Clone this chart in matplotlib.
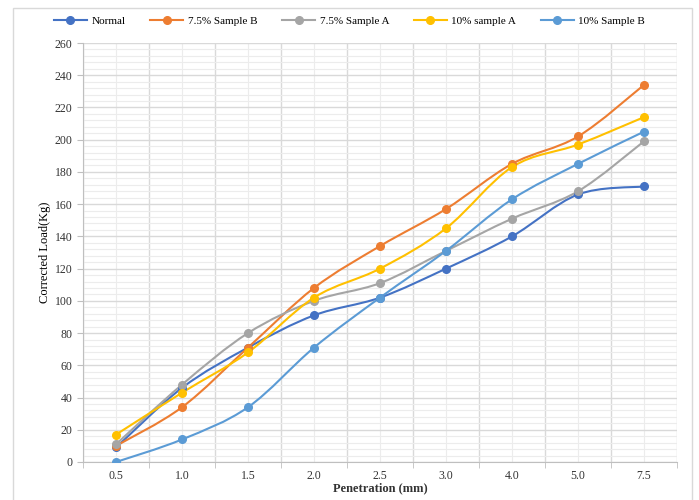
import numpy as np
import matplotlib
matplotlib.use('Agg')
import matplotlib.pyplot as plt
from matplotlib.path import Path
from matplotlib.patches import PathPatch, Rectangle
from matplotlib.lines import Line2D

penetration = ['0.5', '1.0', '1.5', '2.0', '2.5', '3.0', '4.0', '5.0', '7.5']
normal      = [9, 46, 71, 91, 102, 120, 140, 166, 171]
s75_b       = [10, 34, 71, 108, 134, 157, 185, 202, 234]
s75_a       = [11, 48, 80, 100, 111, 131, 151, 168, 199]
s10_a       = [17, 43, 68, 102, 120, 145, 183, 197, 214]
s10_b       = [0, 14, 34, 71, 102, 131, 163, 185, 205]

names  = ['Normal', '7.5% Sample B', '7.5% Sample A', '10% sample A', '10% Sample B']
series = [normal, s75_b, s75_a, s10_a, s10_b]
colors = ['#4472C4', '#ED7D31', '#A5A5A5', '#FFC000', '#5B9BD5']

plt.rcParams['font.family'] = ['Liberation Serif', 'DejaVu Serif']

def smooth_path(x, y):
    # Catmull-Rom style bezier, like Excel's "smoothed line"
    pts = np.column_stack([x, y]).astype(float)
    verts = [pts[0]]; codes = [Path.MOVETO]
    n = len(pts)
    for i in range(n - 1):
        p0 = pts[max(i - 1, 0)]; p1 = pts[i]; p2 = pts[i + 1]; p3 = pts[min(i + 2, n - 1)]
        c1 = p1 + (p2 - p0) / 6.0
        c2 = p2 - (p3 - p1) / 6.0
        verts += [c1, c2, p2]; codes += [Path.CURVE4] * 3
    return Path(verts, codes)

fig = plt.figure(figsize=(6.99, 5.0), dpi=100)
ax = fig.add_axes([83/699, 38/500, (677-83)/699, (462-43)/500])

x = np.arange(len(penetration))
for vals, c in zip(series, colors):
    ax.add_patch(PathPatch(smooth_path(x, vals), fill=False, edgecolor=c, lw=1.5, zorder=3))
    ax.plot(x, vals, 'o', color=c, ms=5.5, zorder=4)

ax.set_xlim(-0.5, len(penetration) - 0.5)
ax.set_ylim(0, 260)
ax.set_yticks(np.arange(0, 261, 20))
ax.set_yticks(np.arange(0, 261, 4), minor=True)
ax.set_xticks(x)
ax.set_xticklabels(penetration)
ax.set_xticks(np.arange(-0.5, len(penetration), 1), minor=True)

ax.grid(which='major', axis='y', color='#d9d9d9', lw=1.0, zorder=0)
ax.grid(which='minor', axis='y', color='#ececec', lw=0.8, zorder=0)
ax.grid(which='minor', axis='x', color='#d9d9d9', lw=1.0, zorder=0)
ax.grid(which='major', axis='x', color='#ececec', lw=0.8, zorder=0)
ax.set_axisbelow(True)

for s in ['top', 'right']:
    ax.spines[s].set_visible(False)
for s in ['left', 'bottom']:
    ax.spines[s].set_color('#bfbfbf')
ax.tick_params(axis='y', which='major', length=4, color='#bfbfbf', labelsize=8.5, labelcolor='#333333')
ax.tick_params(axis='y', which='minor', length=0)
ax.tick_params(axis='x', which='major', length=0, labelsize=8.5, labelcolor='#333333', pad=6)
ax.tick_params(axis='x', which='minor', length=4, color='#bfbfbf')

ax.set_ylabel('Corrected Load(Kg)', fontsize=9, color='black', labelpad=3)
ax.set_xlabel('Penetration (mm)', fontsize=9, fontweight='bold', color='#333333', labelpad=0)

handles = [Line2D([0], [0], color=c, lw=1.5, marker='o', ms=5.5) for c in colors]
fig.legend(handles, names, loc='center', bbox_to_anchor=(0.5, 1 - 21/500), ncol=5,
           frameon=False, fontsize=8, handlelength=3, columnspacing=2.2, handletextpad=0.4)

fig.add_artist(Rectangle((13/699, -0.1), (692-13)/699, 1.1 - 8/500, transform=fig.transFigure,
                         fill=False, edgecolor='#d9d9d9', lw=1))

fig.savefig('out.png', dpi=100)
